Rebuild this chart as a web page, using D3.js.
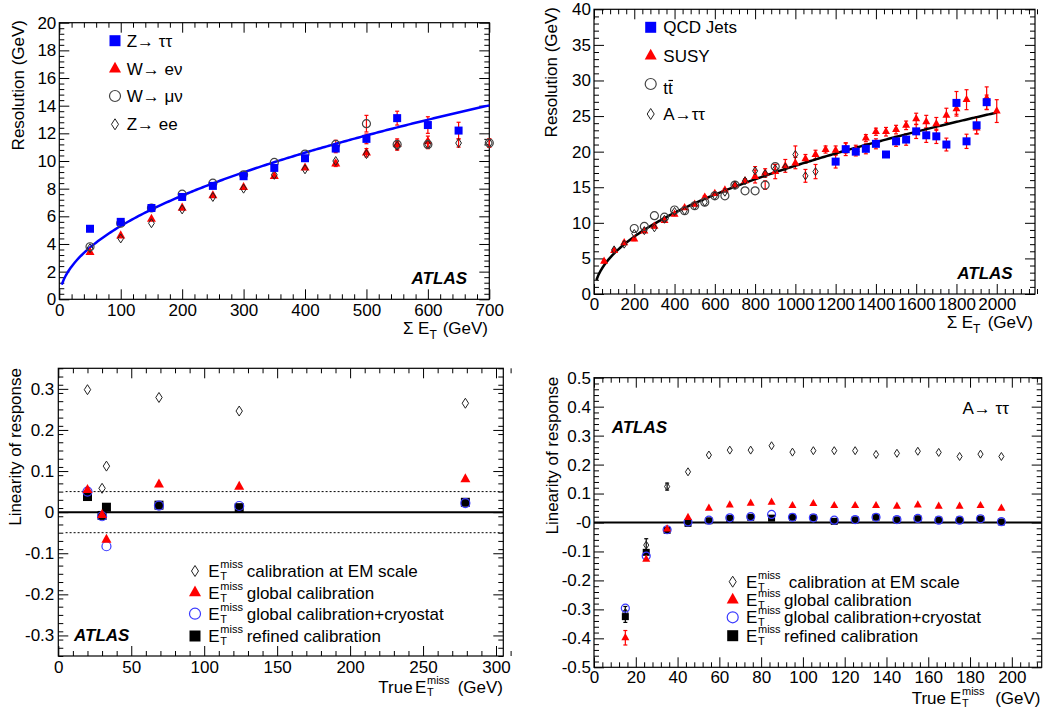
<!DOCTYPE html>
<html>
<head>
<meta charset="utf-8">
<script src="https://cdn.jsdelivr.net/npm/d3@7"></script>
<style>
body { margin: 0; background: #fff; }
</style>
</head>
<body>
<svg id="chart" width="1043" height="711"></svg>
<script>
// ---------- data ----------
// top left: resolution vs sum ET, low range
var sumEt1 = [50, 100, 150, 200, 250, 300, 350, 400, 450, 500, 550, 600, 650, 700];
var zTauTau = [5.1, 5.6, 6.6, 7.4, 8.2, 8.9, 9.5, 10.2, 10.9, 11.6, 13.1, 12.6, 12.2, null];
var zTauTauErr = [0, 0, 0, 0, 0, 0, 0, 0, 0.3, 0.35, 0.5, 0.6, 0.6, 0];
var wENu = [3.4, 4.6, 5.8, 6.6, 7.5, 8.1, 8.9, 9.5, 9.8, 10.6, 11.2, 11.4, null, null];
var wENuErr = [0, 0, 0, 0, 0, 0, 0, 0, 0.2, 0.3, 0.4, 0.4, 0, 0];
var wMuNu = [3.8, 5.5, 6.6, 7.6, 8.4, 9.0, 9.9, 10.5, 11.2, 12.7, 11.2, 11.2, null, 11.3];
var wMuNuErr = [0, 0, 0, 0, 0, 0, 0, 0, 0.3, 0.6, 0.3, 0.3, 0, 0.3];
var zEE = [3.7, 4.4, 5.5, 6.5, 7.4, 8.0, 9.0, 9.4, 10.0, 10.5, 11.1, 11.2, 11.3, 11.3];
var zEEErr = [0, 0, 0, 0, 0, 0, 0, 0, 0, 0, 0.3, 0.3, 0.3, 0.3];
var fitCoef1 = 0.53;   // fit: 0.53 * sqrt(sum ET)

// top right: resolution vs sum ET, high range
var sumEt2 = [50, 100, 150, 200, 250, 300, 350, 400, 450, 500, 550, 600, 650, 700, 750, 800, 850, 900, 950, 1000,
              1050, 1100, 1150, 1200, 1250, 1300, 1350, 1400, 1450, 1500, 1550, 1600, 1650, 1700, 1750, 1800, 1850, 1900, 1950, 2000];
var susy = [4.6, 6.1, 7.2, 7.7, 8.85, 9.5, 10.3, 11.2, 12.1, 12.6, 13.6, 14.1, 14.6, 15.3, 15.9, 16.5, 17.0, 17.2, 18.0, 18.4,
            19.0, 19.6, 20.3, 20.2, 20.5, 20.3, 21.9, 22.8, 22.8, 23.1, 23.7, 24.6, 24.2, 23.9, 25.1, 26.0, 27.3, 23.3, 27.5, 25.7];
var susyErr = [0.2, 0.2, 0.2, 0.2, 0.2, 0.2, 0.2, 0.2, 0.2, 0.2, 0.2, 0.2, 0.2, 0.2, 0.3, 0.9, 0.6, 1.0, 0.9, 0.8,
               0.6, 0.6, 0.5, 0.6, 0.7, 0.6, 0.5, 0.5, 0.6, 0.6, 0.6, 0.8, 0.9, 0.9, 1.0, 1.0, 1.4, 0.8, 1.6, 1.6];
var qcdX = [1200, 1250, 1300, 1350, 1400, 1450, 1500, 1550, 1600, 1650, 1700, 1750, 1800, 1850, 1900, 1950];
var qcdJets = [18.6, 20.35, 20.0, 20.4, 21.1, 19.6, 21.45, 21.7, 22.85, 22.3, 22.15, 21.0, 26.85, 21.45, 23.7, 26.95];
var qcdErr = [0.9, 0.9, 0.6, 0.7, 0.7, 0.4, 0.7, 0.8, 1.0, 1.0, 1.0, 0.9, 1.6, 1.0, 1.2, 1.0];
var ttX = [200, 250, 300, 350, 400, 450, 500, 550, 600, 650, 700, 750, 800, 850, 900];
var ttbar = [9.2, 9.5, 11.0, 10.8, 11.8, 11.7, 12.4, 12.9, 13.8, 13.8, 15.3, 14.5, 14.5, 15.3, 17.9];
var ttErr = [0, 0, 0, 0, 0, 0, 0, 0, 0, 0, 0, 0, 0, 0.6, 0];
var aX = [100, 150, 200, 250, 300, 350, 400, 450, 500, 550, 600, 650, 700, 750, 800, 850, 900, 950, 1000, 1050, 1100];
var aTauTau = [6.2, 7.0, 8.5, 8.9, 9.3, 10.5, 11.6, 11.7, 12.4, 12.9, 13.8, 14.3, 15.3, 15.9, 17.3, 16.9, 17.6, 17.8, 19.6, 16.6, 17.2];
var aErr = [0, 0, 0, 0, 0, 0, 0, 0, 0, 0, 0, 0, 0, 0, 0.6, 0, 0.6, 0, 1.2, 0.9, 1.0];
var fitCoef2 = 0.57;   // fit: 0.57 * sqrt(sum ET)

// bottom left: linearity vs true ETmiss
var trueEt3 = [20, 30, 33, 69, 124, 279];
var emScale3 = [0.298, 0.058, 0.112, 0.279, 0.246, 0.265];
var globCal3 = [0.054, -0.007, -0.067, 0.067, 0.062, 0.080];
var cryo3 = [0.050, -0.010, -0.083, 0.016, 0.015, 0.022];
var refined3 = [0.038, -0.008, 0.012, 0.017, 0.011, 0.024];

// bottom right: linearity vs true ETmiss, A -> tautau
var trueEt4 = [15, 25, 35, 45, 55, 65, 75, 85, 95, 105, 115, 125, 135, 145, 155, 165, 175, 185, 195];
var emScale4 = [-0.31, -0.078, 0.124, 0.175, 0.233, 0.250, 0.250, 0.265, 0.243, 0.248, 0.248, 0.248, 0.235, 0.239, 0.246, 0.242, 0.228, 0.236, 0.228];
var emScale4Err = [0.02, 0.022, 0.012, 0, 0, 0, 0, 0, 0, 0, 0, 0, 0, 0, 0, 0, 0, 0, 0];
var globCal4 = [-0.398, -0.127, -0.023, 0.017, 0.049, 0.060, 0.066, 0.070, 0.058, 0.065, 0.058, 0.058, 0.058, 0.056, 0.060, 0.056, 0.056, 0.058, 0.049];
var globCal4Err = [0.025, 0, 0, 0, 0, 0, 0, 0, 0, 0, 0, 0, 0, 0, 0, 0, 0, 0, 0];
var cryo4 = [-0.296, -0.116, -0.025, 0.002, 0.008, 0.016, 0.020, 0.028, 0.018, 0.016, 0.008, 0.010, 0.018, 0.010, 0.014, 0.008, 0.008, 0.013, 0.003];
var refined4 = [-0.325, -0.103, -0.027, -0.003, 0.006, 0.014, 0.018, 0.015, 0.018, 0.016, 0.004, 0.009, 0.018, 0.009, 0.013, 0.008, 0.008, 0.012, 0.002];
var refined4Err = [0.02, 0, 0, 0, 0, 0, 0, 0, 0, 0, 0, 0, 0, 0, 0, 0, 0, 0, 0];

// ---------- helpers ----------
var svg = d3.select("#chart");
var FONT = "'Liberation Sans', Arial, Helvetica, sans-serif";
var BLUE = "#0000ff", RED = "#ff0000";

function minorTicks(dom, step, majors) {
  var n = Math.round((dom[1] - dom[0]) / step);
  return d3.range(n + 1).map(function(i) { return dom[0] + i * step; })
    .filter(function(v) { return !majors.some(function(m) { return Math.abs(m - v) < step / 10; }); });
}
function blank() { return ""; }

// builds one ROOT-like frame with ticks on all four sides
function makePanel(c) {
  var x = d3.scaleLinear().domain(c.xDomain).range([c.left, c.right]);
  var y = d3.scaleLinear().domain(c.yDomain).range([c.bottom, c.top]);
  var g = svg.append("g");
  var xMin = minorTicks(c.xDomain, c.xMinor, c.xMajor);
  var yMin = minorTicks(c.yDomain, c.yMinor, c.yMajor);

  function axis(gen, tr, vals, len, fmt, pad) {
    var ag = g.append("g").attr("transform", tr)
      .call(gen.tickValues(vals).tickSize(-len).tickSizeOuter(0).tickPadding(pad || 0).tickFormat(fmt || blank));
    ag.select(".domain").remove();
    ag.attr("font-family", FONT).attr("font-size", 17);
    ag.selectAll("text").attr("fill", "#000");
    return ag;
  }
  axis(d3.axisBottom(x), "translate(0," + c.bottom + ")", c.xMajor, 10, c.xFmt, c.xPad);
  axis(d3.axisBottom(x), "translate(0," + c.bottom + ")", xMin, 5);
  axis(d3.axisTop(x), "translate(0," + c.top + ")", c.xMajor, 10);
  axis(d3.axisTop(x), "translate(0," + c.top + ")", xMin, 5);
  axis(d3.axisLeft(y), "translate(" + c.left + ",0)", c.yMajor, 10, c.yFmt, c.yPad);
  axis(d3.axisLeft(y), "translate(" + c.left + ",0)", yMin, 5);
  axis(d3.axisRight(y), "translate(" + c.right + ",0)", c.yMajor, 10);
  axis(d3.axisRight(y), "translate(" + c.right + ",0)", yMin, 5);

  g.append("rect").attr("x", c.left).attr("y", c.top)
    .attr("width", c.right - c.left).attr("height", c.bottom - c.top)
    .attr("fill", "none").attr("stroke", "#000").attr("stroke-width", 1.2);

  // y title, right-aligned against the top of the axis
  g.append("text").attr("transform", "translate(" + c.yTitleX + "," + c.yTitleEnd + ") rotate(-90)")
    .attr("text-anchor", "end").attr("dy", "0.35em")
    .attr("font-family", FONT).attr("font-size", 17).text(c.yTitle);
  return {g: g, x: x, y: y, c: c};
}

function markerPath(type, s) {
  var h = s / 2;
  if (type == "square") return "M" + (-h) + "," + (-h) + "h" + s + "v" + s + "h" + (-s) + "Z";
  if (type == "triangle") return "M0," + (-s * 0.6) + "L" + h + "," + (s * 0.3) + "L" + (-h) + "," + (s * 0.3) + "Z";
  if (type == "circle") return "M" + h + ",0A" + h + "," + h + " 0 1,1 " + (-h) + ",0A" + h + "," + h + " 0 1,1 " + h + ",0Z";
  return "M0," + (-h) + "L" + (s * 0.32) + ",0L0," + h + "L" + (-s * 0.32) + ",0Z";
}

function points(xs, ys, errs) {
  return xs.map(function(v, i) { return {x: v, y: ys[i], e: errs ? errs[i] : 0}; })
    .filter(function(d) { return d.y != null; });
}

function drawSeries(p, data, type, size, st) {
  p.g.append("g").selectAll("path").data(data).enter().append("path")
    .attr("d", markerPath(type, size))
    .attr("transform", function(d) { return "translate(" + p.x(d.x) + "," + p.y(d.y) + ")"; })
    .attr("fill", st.fill).attr("stroke", st.stroke || "none").attr("stroke-width", st.sw || 1);
}

function drawErrors(p, data, color) {
  var eg = p.g.append("g").attr("stroke", color).attr("stroke-width", 1.2);
  var sel = eg.selectAll("g").data(data.filter(function(d) { return d.e > 0; })).enter().append("g");
  sel.append("line")
    .attr("x1", function(d) { return p.x(d.x); }).attr("x2", function(d) { return p.x(d.x); })
    .attr("y1", function(d) { return p.y(d.y - d.e); }).attr("y2", function(d) { return p.y(d.y + d.e); });
  [-1, 1].forEach(function(sgn) {
    sel.append("line")
      .attr("x1", function(d) { return p.x(d.x) - 2; }).attr("x2", function(d) { return p.x(d.x) + 2; })
      .attr("y1", function(d) { return p.y(d.y + sgn * d.e); }).attr("y2", function(d) { return p.y(d.y + sgn * d.e); });
  });
}

function drawFit(p, coef, x0, x1, color) {
  var xs = d3.range(0, 201).map(function(i) { return x0 + (x1 - x0) * i / 200; });
  var line = d3.line().x(function(v) { return p.x(v); }).y(function(v) { return p.y(coef * Math.sqrt(v)); });
  p.g.append("path").attr("d", line(xs)).attr("fill", "none").attr("stroke", color).attr("stroke-width", 2.5);
}

function text(g, x, y, str, opt) {
  opt = opt || {};
  return g.append("text").attr("x", x).attr("y", y)
    .attr("font-family", FONT).attr("font-size", opt.size || 17)
    .attr("font-weight", opt.bold ? "bold" : null).attr("font-style", opt.italic ? "italic" : null)
    .attr("text-anchor", opt.anchor || "start").text(str);
}

function atlas(g, x, y, anchor) { text(g, x, y, "ATLAS", {bold: true, italic: true, anchor: anchor}); }

// E_T^miss drawn as E with stacked sub/superscript
function etMiss(g, x, y) {
  text(g, x, y, "E");
  text(g, x + 12, y - 9, "miss", {size: 11});
  text(g, x + 12, y + 3, "T", {size: 11});
}

function legendMarker(g, cx, cy, type, size, st) {
  g.append("path").attr("d", markerPath(type, size)).attr("transform", "translate(" + cx + "," + cy + ")")
    .attr("fill", st.fill).attr("stroke", st.stroke || "none").attr("stroke-width", st.sw || 1);
}

var fmtInt = d3.format("d");
function fmtLin(v) { return Math.abs(v) < 1e-9 ? "0" : v.toFixed(1); }
function fmtLinNeg(v) { return Math.abs(v) < 1e-9 ? "-0" : v.toFixed(1); }

var stSquareB = {fill: BLUE}, stTri = {fill: RED}, stCircG = {fill: "none", stroke: "#444", sw: 1.2},
    stDiam = {fill: "none", stroke: "#222", sw: 1}, stCircB = {fill: "none", stroke: "#3a3aff", sw: 1.2},
    stSquareK = {fill: "#000"};

// ---------- top left ----------
var p1 = makePanel({left: 59.3, right: 489.3, top: 22.7, bottom: 299.3,
  xDomain: [0, 700], xMajor: d3.range(0, 701, 100), xMinor: 20, xFmt: fmtInt, xPad: 5,
  yDomain: [0, 20], yMajor: d3.range(0, 21, 2), yMinor: 0.4, yFmt: fmtInt, yPad: 3,
  yTitle: "Resolution (GeV)", yTitleX: 18, yTitleEnd: 20});
drawErrors(p1, points(sumEt1, zTauTau, zTauTauErr), RED);
drawErrors(p1, points(sumEt1, wENu, wENuErr), RED);
drawErrors(p1, points(sumEt1, wMuNu, wMuNuErr), RED);
drawErrors(p1, points(sumEt1, zEE, zEEErr), RED);
drawFit(p1, fitCoef1, 4, 700, BLUE);
drawSeries(p1, points(sumEt1, wENu), "triangle", 9, stTri);
drawSeries(p1, points(sumEt1, zEE), "diamond", 9, stDiam);
drawSeries(p1, points(sumEt1, wMuNu), "circle", 8, stCircG);
drawSeries(p1, points(sumEt1, zTauTau), "square", 8, stSquareB);
[["square", 11, stSquareB, "Z\u2192 \u03c4\u03c4", 40.7], ["triangle", 12, stTri, "W\u2192 e\u03bd", 69],
 ["circle", 11, stCircG, "W\u2192 \u03bc\u03bd", 96], ["diamond", 11, stDiam, "Z\u2192 ee", 124.3]].forEach(function(r) {
  legendMarker(p1.g, 115, r[4], r[0], r[1], r[2]);
  text(p1.g, 126.7, r[4] + 6, r[3]);
});
atlas(p1.g, 467, 283.7, "end");
text(p1.g, 403, 334, "\u03a3");
text(p1.g, 418, 334, "E");
text(p1.g, 429.5, 339, "T", {size: 12});
text(p1.g, 488, 334, "(GeV)", {anchor: "end"});

// ---------- top right ----------
var p2 = makePanel({left: 594, right: 1035, top: 9.3, bottom: 294,
  xDomain: [0, 2190], xMajor: d3.range(0, 2001, 200), xMinor: 40, xFmt: fmtInt, xPad: 4,
  yDomain: [0, 40], yMajor: d3.range(0, 41, 5), yMinor: 1, yFmt: fmtInt, yPad: 3,
  yTitle: "Resolution (GeV)", yTitleX: 551, yTitleEnd: 7});
drawErrors(p2, points(sumEt2, susy, susyErr), RED);
drawErrors(p2, points(qcdX, qcdJets, qcdErr), RED);
drawErrors(p2, points(ttX, ttbar, ttErr), RED);
drawErrors(p2, points(aX, aTauTau, aErr), RED);
drawFit(p2, fitCoef2, 12, 2000, "#000");
drawSeries(p2, points(sumEt2, susy), "triangle", 8, stTri);
drawSeries(p2, points(ttX, ttbar), "circle", 8, stCircG);
drawSeries(p2, points(aX, aTauTau), "diamond", 8, stDiam);
drawSeries(p2, points(qcdX, qcdJets), "square", 8, stSquareB);
legendMarker(p2.g, 650.7, 27.3, "square", 11, stSquareB);
text(p2.g, 663.3, 33.3, "QCD Jets");
legendMarker(p2.g, 650.7, 56, "triangle", 12, stTri);
text(p2.g, 663.3, 62, "SUSY");
legendMarker(p2.g, 650.7, 84, "circle", 11, stCircG);
text(p2.g, 663.3, 94, "tt");
p2.g.append("line").attr("x1", 668.5).attr("x2", 673).attr("y1", 80.5).attr("y2", 80.5).attr("stroke", "#000").attr("stroke-width", 1.2);
legendMarker(p2.g, 650.7, 114, "diamond", 11, stDiam);
text(p2.g, 663.3, 120, "A\u2192\u03c4\u03c4");
atlas(p2.g, 1012.7, 278.7, "end");
text(p2.g, 946.7, 328, "\u03a3");
text(p2.g, 961.7, 328, "E");
text(p2.g, 973, 333, "T", {size: 12});
text(p2.g, 1033, 328, "(GeV)", {anchor: "end"});

// ---------- bottom left ----------
var p3 = makePanel({left: 58.3, right: 503.3, top: 368.3, bottom: 656,
  xDomain: [0, 305], xMajor: d3.range(0, 301, 50), xMinor: 10, xFmt: fmtInt, xPad: 5,
  yDomain: [-0.35, 0.35], yMajor: d3.range(-3, 4).map(function(i) { return i / 10; }), yMinor: 0.02, yFmt: fmtLin, yPad: 4,
  yTitle: "Linearity of response", yTitleX: 15, yTitleEnd: 368});
[0.05, -0.05].forEach(function(v) {
  p3.g.append("line").attr("x1", p3.x(5)).attr("x2", p3.c.right).attr("y1", p3.y(v)).attr("y2", p3.y(v))
    .attr("stroke", "#000").attr("stroke-width", 1).attr("stroke-dasharray", "2,2");
});
p3.g.append("line").attr("x1", p3.c.left).attr("x2", p3.c.right).attr("y1", p3.y(0)).attr("y2", p3.y(0))
  .attr("stroke", "#000").attr("stroke-width", 2);
drawSeries(p3, points(trueEt3, emScale3), "diamond", 10, stDiam);
drawSeries(p3, points(trueEt3, refined3), "square", 9, stSquareK);
drawSeries(p3, points(trueEt3, cryo3), "circle", 9, stCircB);
drawSeries(p3, points(trueEt3, globCal3), "triangle", 10, stTri);
var leg3 = [["diamond", 11, stDiam, "calibration at EM scale", 571], ["triangle", 12, stTri, "global calibration", 592.7],
            ["circle", 11, stCircB, "global calibration+cryostat", 613.7], ["square", 11, stSquareK, "refined calibration", 636]];
leg3.forEach(function(r) {
  legendMarker(p3.g, 195, r[4], r[0], r[1], r[2]);
  etMiss(p3.g, 208.3, r[4] + 6);
  text(p3.g, 246.7, r[4] + 6, r[3]);
});
atlas(p3.g, 74, 641, "start");
text(p3.g, 378.3, 692.7, "True");
etMiss(p3.g, 415, 692.7);
text(p3.g, 503, 692.7, "(GeV)", {anchor: "end"});

// ---------- bottom right ----------
var p4 = makePanel({left: 594, right: 1041.7, top: 377.7, bottom: 667.3,
  xDomain: [0, 214.3], xMajor: d3.range(0, 201, 20), xMinor: 4, xFmt: fmtInt, xPad: 4,
  yDomain: [-0.5, 0.5], yMajor: d3.range(-5, 6).map(function(i) { return i / 10; }), yMinor: 0.02, yFmt: fmtLinNeg, yPad: 3,
  yTitle: "Linearity of response", yTitleX: 551.7, yTitleEnd: 376.7});
p4.g.append("line").attr("x1", p4.c.left).attr("x2", p4.c.right).attr("y1", p4.y(0)).attr("y2", p4.y(0))
  .attr("stroke", "#000").attr("stroke-width", 2);
drawErrors(p4, points(trueEt4, emScale4, emScale4Err), "#000");
drawErrors(p4, points(trueEt4, globCal4, globCal4Err), RED);
drawErrors(p4, points(trueEt4, refined4, refined4Err), "#000");
drawSeries(p4, points(trueEt4, emScale4), "diamond", 8, stDiam);
drawSeries(p4, points(trueEt4, refined4), "square", 7, stSquareK);
drawSeries(p4, points(trueEt4, cryo4), "circle", 8, stCircB);
drawSeries(p4, points(trueEt4, globCal4), "triangle", 8, stTri);
var leg4 = [["diamond", 11, stDiam, " calibration at EM scale", 581.7], ["triangle", 12, stTri, "global calibration", 600],
            ["circle", 11, stCircB, "global calibration+cryostat", 617.3], ["square", 11, stSquareK, "refined calibration", 635.7]];
leg4.forEach(function(r) {
  legendMarker(p4.g, 732.7, r[4], r[0], r[1], r[2]);
  etMiss(p4.g, 746, r[4] + 6);
  text(p4.g, 784, r[4] + 6, r[3]).attr("xml:space", "preserve");
});
atlas(p4.g, 611.7, 432.7, "start");
text(p4.g, 1009, 414.3, "A\u2192 \u03c4\u03c4", {anchor: "end"});
text(p4.g, 911.7, 704, "True");
etMiss(p4.g, 950, 704);
text(p4.g, 1040.5, 704, "(GeV)", {anchor: "end"});
</script>
</body>
</html>
